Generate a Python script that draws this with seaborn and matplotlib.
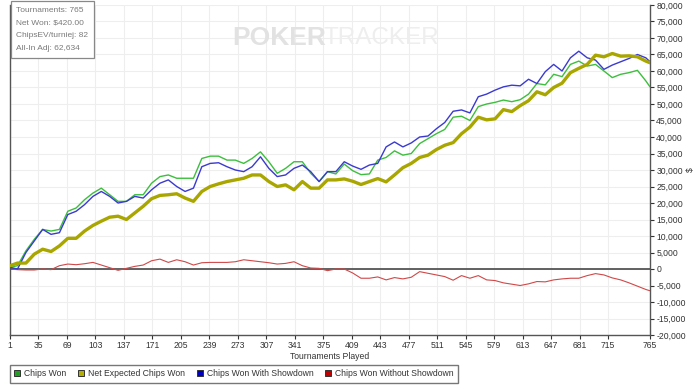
import numpy as np
import pandas as pd
import matplotlib
matplotlib.use("Agg")
import matplotlib.pyplot as plt
from matplotlib.lines import Line2D
from matplotlib.ticker import FuncFormatter
import seaborn as sns

# tournaments played (x positions of the samples)
tournaments = [1, 10, 20, 30, 40, 50, 60, 70, 80, 90,
               100, 110, 120, 130, 140, 150, 160, 170, 180, 190,
               200, 210, 220, 230, 240, 250, 260, 270, 280, 290,
               300, 310, 320, 330, 340, 350, 360, 370, 380, 390,
               400, 410, 420, 430, 440, 450, 460, 470, 480, 490,
               500, 510, 520, 530, 540, 550, 560, 570, 580, 590,
               600, 610, 620, 630, 640, 650, 660, 670, 680, 690,
               700, 710, 720, 730, 740, 750, 760, 765]

# values in thousands of chips
chips_won = [0.5, 1, 5.5, 9, 12, 11.5, 12, 17.5, 18.5, 21,
             23, 24.5, 22.5, 20.5, 20.5, 22.5, 22.5, 26, 28, 28.5,
             27.5, 27.5, 27.5, 33.5, 34.2, 34.2, 33, 33, 32, 33.5,
             35.5, 32.5, 29, 30.5, 32.5, 32.5, 29, 26.5, 29.5, 28.8,
             31.8, 29.8, 28.6, 28.8, 33, 33.8, 35.8, 34.5, 35, 38,
             39.5, 41, 42.3, 46, 46.3, 45, 49.2, 50, 50.5, 51.2,
             50.7, 51.3, 53, 56.2, 55.8, 59, 58.3, 62, 63, 61.5,
             62, 60, 58, 59, 59.5, 60.2, 57, 55.2]

net_expected = [1, 1.8, 1.8, 4.5, 6, 5.3, 7, 9.3, 9.3, 11.5,
                13.2, 14.5, 15.7, 16, 15, 17, 19, 21.3, 22.3, 22.5,
                22.8, 21.5, 20.5, 23.5, 25, 25.8, 26.5, 27, 27.5, 28.5,
                28.5, 26.5, 25, 25.5, 24, 26.5, 24.5, 24.5, 27, 27,
                27.3, 26.6, 25.6, 26.5, 27.4, 26.4, 28.5, 30.7, 32, 33.8,
                34.5, 36.2, 37.5, 38.3, 41, 43, 46, 45.2, 45.5, 48.3,
                47.7, 49.5, 51, 53.7, 52.8, 55, 56.3, 59.5, 60.8, 62,
                64.8, 64.3, 65.3, 64.5, 64.6, 64.3, 63, 62.5]

with_showdown = [0.5, 0, 5, 8.5, 12, 10.5, 11, 16.5, 17.5, 19.5,
                 22, 23.5, 22, 20, 20.5, 22, 21.5, 24, 26, 27,
                 25, 23.5, 24.5, 31, 32, 32.2, 31, 30, 29.5, 31,
                 34, 30.5, 28, 28.5, 30.5, 31.5, 29.5, 26.5, 29.5, 29.5,
                 32.5, 31.2, 30.2, 31.5, 32, 37, 38.5, 37, 38.2, 40,
                 40.3, 42.5, 44.4, 47.8, 48.2, 47.3, 52.2, 53, 54.2, 55.2,
                 55.7, 55.5, 57.5, 56.2, 59.8, 62, 60, 64, 66, 64,
                 63.3, 60.5, 61.8, 62.8, 63.8, 65, 64, 62.8]

without_showdown = [0, -0.2, -0.3, -0.3, 0, -0.2, 1, 1.5, 1.3, 1.6,
                    2, 1.2, 0.4, -0.4, 0.2, 0.8, 1.2, 2.5, 3, 2,
                    2.8, 2.2, 1.2, 1.9, 2, 2, 2, 2.2, 2.8, 2.5,
                    2.2, 1.9, 1.5, 1.7, 2.2, 1, 0.3, 0.2, -0.5, 0,
                    0, -1.2, -2.8, -2.8, -2.4, -3.3, -2.6, -3, -2.5, -0.8,
                    -1.3, -1.8, -2.3, -3.4, -2, -2.8, -2, -3.3, -3.5, -4.2,
                    -4.6, -5, -4.5, -3.8, -3.9, -3.3, -3, -2.8, -2.8, -2,
                    -1.4, -1.8, -2.7, -3.3, -4.2, -5.2, -6.2, -6.6]

x_ticks = [1, 35, 69, 103, 137, 171, 205, 239, 273, 307, 341, 375, 409,
           443, 477, 511, 545, 579, 613, 647, 681, 715, 765]

info_lines = ["Tournaments: 765", "Net Won: $420.00",
              "ChipsEV/turniej: 82", "All-In Adj: 62,634"]

series = [
    ("Chips Won", chips_won, "#3cbf3c", 1.0, 3, "#22a022"),
    ("Net Expected Chips Won", net_expected, "#a9a600", 2.4, 5, "#b4b000"),
    ("Chips Won With Showdown", with_showdown, "#3a3ad0", 1.0, 4, "#0000c0"),
    ("Chips Won Without Showdown", without_showdown, "#d04848", 0.8, 2, "#c00000"),
]

sns.set_style("white")
plt.rcParams['font.family'] = ['Liberation Sans', 'DejaVu Sans']

fig = plt.figure(figsize=(7, 3.89), dpi=100)
ax = fig.add_axes([10 / 700, 1 - 335 / 389, 640 / 700, 330 / 389])

for name, vals, color, lw, z, _ in series:
    df = pd.DataFrame({"t": tournaments, "v": np.array(vals) * 1000})
    sns.lineplot(data=df, x="t", y="v", ax=ax, color=color, linewidth=lw,
                 zorder=z, legend=False)

ax.axhline(0, color="#555555", linewidth=1.3, zorder=1.5)

ax.set_xlim(1, 765)
ax.set_ylim(-20000, 80000)
ax.set_xticks(x_ticks)
ax.set_yticks(np.arange(-20000, 80001, 5000))
ax.yaxis.tick_right()
ax.yaxis.set_major_formatter(FuncFormatter(lambda v, p: f"{int(v):,}"))
ax.tick_params(axis="both", labelsize=6.2, colors="#333333", length=3,
               width=0.8, direction="out", pad=1.5)
ax.tick_params(axis="y", right=True, left=False)
ax.tick_params(axis="x", bottom=True)
ax.grid(True, color="#eeeeee", linewidth=0.8)
ax.set_axisbelow(True)

for side in ["left", "bottom", "right"]:
    ax.spines[side].set_color("#555555")
    ax.spines[side].set_linewidth(1.0)
ax.spines["top"].set_visible(False)

ax.set_xlabel("Tournaments Played", fontsize=6.2, color="#333333", labelpad=1)
ax.set_ylabel("")
fig.text(690 / 700, 1 - 170 / 389, "$", fontsize=6.2, color="#333333",
         rotation=90, ha="center", va="center")

# watermark
fig.text(232 / 700, 1 - 38 / 389, "POKER", fontsize=19, fontweight="bold",
         color="#e2e2e2", va="center", ha="left", zorder=0)
fig.text(324 / 700, 1 - 38 / 389, "TRACKER", fontsize=17.5,
         color="#eeeeee", va="center", ha="left", zorder=0)

# info box
ax.text(0.01, 0.995, "\n".join(info_lines), transform=ax.transAxes,
        fontsize=6.0, color="#7a7a7a", va="top", ha="left", linespacing=2.15,
        zorder=10,
        bbox=dict(boxstyle="square,pad=0.7", facecolor="white",
                  edgecolor="#888888", linewidth=0.9))

handles = [Line2D([], [], linestyle="none", marker="s", markersize=5,
                  markerfacecolor=mc, markeredgecolor="#333333",
                  markeredgewidth=0.7) for _, _, _, _, _, mc in series]
labels = [s[0] for s in series]
leg = fig.legend(handles, labels, loc="lower left",
                 bbox_to_anchor=(10 / 700, 6 / 389), ncol=4, fontsize=6.2,
                 frameon=True, fancybox=False, edgecolor="#555555",
                 handlelength=0.6, handletextpad=0.5, columnspacing=1.4,
                 borderpad=0.55, borderaxespad=0)
leg.get_frame().set_linewidth(1.0)
for t in leg.get_texts():
    t.set_color("#333333")

fig.savefig("out.png", dpi=100)
